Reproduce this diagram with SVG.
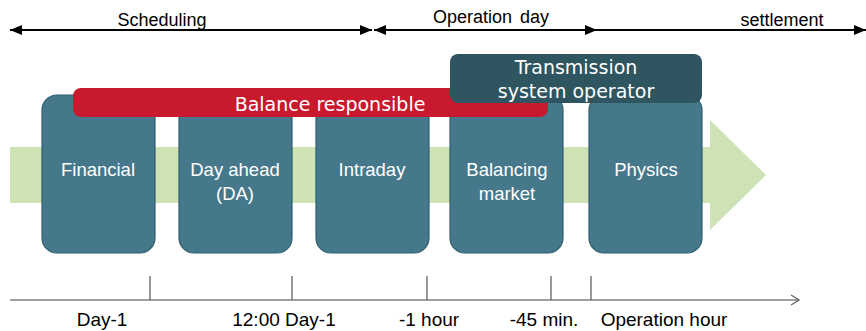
<svg xmlns="http://www.w3.org/2000/svg" width="866" height="331" viewBox="0 0 866 331">
<defs>
<style>
.node{fill:#46788C;stroke:#2E5E70;stroke-width:1.2}
.nt{font-family:"Liberation Sans",Arial,sans-serif;font-size:18.5px;fill:#FFFFFF;text-anchor:middle}
.bt{font-family:"DejaVu Sans",Verdana,sans-serif;font-size:19px;fill:#FFFFFF;text-anchor:middle}
.lt{font-family:"Liberation Sans",Arial,sans-serif;font-size:18px;fill:#000000;text-anchor:middle}
.bl{font-family:"Liberation Sans",Arial,sans-serif;font-size:19px;fill:#000000;text-anchor:middle}
.ph{stroke:#000;stroke-width:2;fill:none}
.tick{stroke:#555;stroke-width:1.2}
</style>
<marker id="ah" viewBox="0 0 12 10" refX="12" refY="5" markerWidth="12" markerHeight="10" markerUnits="userSpaceOnUse" orient="auto-start-reverse">
<path d="M0,0 L12,5 L0,10 Z" fill="#000"/>
</marker>
<marker id="open" viewBox="0 0 10 12" refX="9" refY="6" markerWidth="10" markerHeight="12" markerUnits="userSpaceOnUse" orient="auto">
<path d="M1,1 L9,6 L1,11" fill="none" stroke="#666" stroke-width="1.3"/>
</marker>
</defs>
<rect width="866" height="331" fill="#FFFFFF"/>

<g id="phases">
<line class="ph" x1="10" y1="30" x2="372" y2="30" marker-start="url(#ah)" marker-end="url(#ah)"/>
<line class="ph" x1="374" y1="30" x2="597" y2="30" marker-start="url(#ah)" marker-end="url(#ah)"/>
<line class="ph" x1="597" y1="30" x2="866" y2="30" marker-end="url(#ah)"/>
<text class="lt" x="162" y="26">Scheduling</text>
<text class="lt" x="491" y="23" font-size="18.5" word-spacing="3">Operation day</text>
<text class="lt" x="782" y="26">settlement</text>
</g>

<g id="flow-arrow">
<path d="M10,147 L710,147 L710,120 L766,175 L710,230 L710,203 L10,203 Z" fill="#CDE3B5"/>
</g>

<g id="financial">
<rect class="node" x="42" y="95" width="113" height="158" rx="15"/>
<text class="nt" x="98" y="176">Financial</text>
</g>
<g id="day-ahead">
<rect class="node" x="179" y="95" width="113" height="158" rx="15"/>
<text class="nt" x="235" y="176">Day ahead</text>
<text class="nt" x="235" y="200">(DA)</text>
</g>
<g id="intraday">
<rect class="node" x="316" y="95" width="113" height="158" rx="15"/>
<text class="nt" x="372" y="176">Intraday</text>
</g>
<g id="balancing">
<rect class="node" x="450" y="95" width="113" height="158" rx="15"/>
<text class="nt" x="507" y="176">Balancing</text>
<text class="nt" x="507" y="200">market</text>
</g>
<g id="physics">
<rect class="node" x="589" y="95" width="113" height="158" rx="15"/>
<text class="nt" x="646" y="176">Physics</text>
</g>

<g id="balance-responsible">
<rect x="73" y="88" width="475" height="29" rx="8" fill="#C8192E"/>
<text class="bt" x="330" y="111">Balance responsible</text>
</g>

<g id="tso">
<rect x="450" y="54" width="252" height="49" rx="8" fill="#2E5560"/>
<text class="bt" x="576" y="74">Transmission</text>
<text class="bt" x="576" y="98">system operator</text>
</g>

<g id="timeline">
<line x1="10" y1="300" x2="799" y2="300" stroke="#808080" stroke-width="1.3" marker-end="url(#open)"/>
<line class="tick" x1="150" y1="276" x2="150" y2="300"/>
<line class="tick" x1="292" y1="276" x2="292" y2="300"/>
<line class="tick" x1="427" y1="276" x2="427" y2="300"/>
<line class="tick" x1="551" y1="276" x2="551" y2="300"/>
<line class="tick" x1="591" y1="276" x2="591" y2="300"/>
<text class="bl" x="102" y="326">Day-1</text>
<text class="bl" x="284" y="326">12:00 Day-1</text>
<text class="bl" x="429" y="326">-1 hour</text>
<text class="bl" x="544" y="326">-45 min.</text>
<text class="bl" x="664" y="326">Operation hour</text>
</g>
</svg>
